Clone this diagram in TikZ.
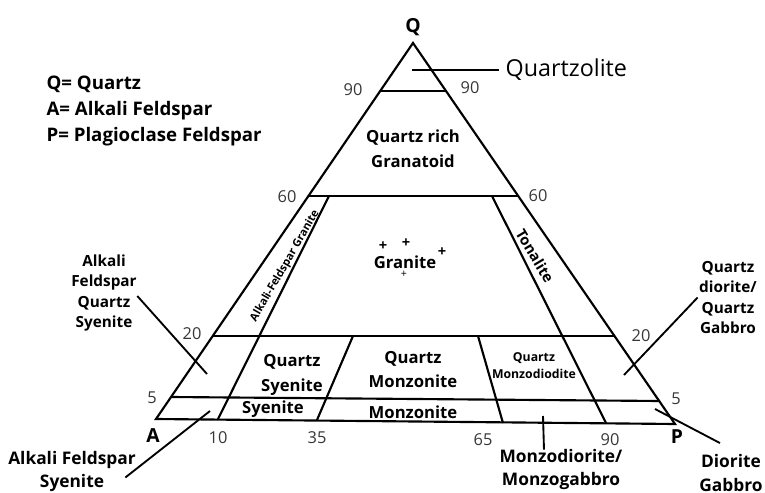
\documentclass[tikz,border=0pt]{standalone}
\usepackage{fontspec}
\setmainfont{Open Sans}
\usepackage{xcolor}
\usetikzlibrary{positioning, calc}
\definecolor{QAPInk}{RGB}{0, 0, 0}
\definecolor{QAPNum}{RGB}{55, 55, 55}

\begin{document}
\begin{tikzpicture}[x=0.75pt, y=-0.75pt,
    edge/.style={draw=QAPInk, line width=1.6pt, line join=miter},
    lead/.style={draw=QAPInk, line width=1.4pt},
    fieldlbl/.style={font=\fontsize{12.5}{18.5}\selectfont\bfseries, align=center, inner sep=1pt},
    sidelbl/.style={font=\fontsize{11.5}{15.4}\selectfont\bfseries, align=center, inner sep=1pt},
    footlbl/.style={font=\fontsize{13}{17.5}\selectfont\bfseries, align=center, inner sep=1pt},
    numlbl/.style={font=\fontsize{12.3}{14}\selectfont, text=QAPNum, inner sep=1pt},
    cornerlbl/.style={font=\fontsize{14.5}{16}\selectfont\bfseries, inner sep=1pt}
  ]
  \useasboundingbox (0,0) rectangle (765,493);

  % legend
  \node[anchor=west, align=left, inner sep=1pt,
    font=\fontsize{14}{19.8}\selectfont\bfseries] (legend) at (45,111)
    {Q= Quartz\\A= Alkali Feldspar\\P= Plagioclase Feldspar};

  % triangle
  \coordinate (Q) at (413,43);
  \coordinate (A) at (156,419);
  \coordinate (P) at (675,424);
  \draw[edge] (A) -- (Q) -- (P) -- cycle;
  \node[cornerlbl] (qlbl) at (413,27) {Q};
  \node[cornerlbl] (albl) at (153,436) {A};
  \node[cornerlbl] (plbl) at (677,437) {P};

  % level lines
  \draw[edge] (380,91) -- (447,91);
  \draw[edge] (308,196) -- (518,196);
  \draw[edge] (213,336) -- (615,336);
  \draw[edge] (171,397) -- (660,401);

  % field dividers
  \draw[edge] (329,196) -- (218,419);
  \draw[edge] (353,336) -- (317,420);
  \draw[edge] (478,336) -- (503,423);
  \draw[edge] (492,196) -- (606,423);

  % scale numbers
  \node[numlbl] (n90l) at (353,90) {90};
  \node[numlbl] (n90r) at (470,88) {90};
  \node[numlbl] (n60l) at (287,197) {60};
  \node[numlbl] (n60r) at (538,196) {60};
  \node[numlbl] (n20l) at (192,334) {20};
  \node[numlbl] (n20r) at (641,336) {20};
  \node[numlbl] (n5l) at (152,398) {5};
  \node[numlbl] (n5r) at (676,399) {5};
  \node[numlbl] (n10) at (218,438) {10};
  \node[numlbl] (n35) at (317,438) {35};
  \node[numlbl] (n65) at (483,440) {65};
  \node[numlbl] (n90b) at (610,440) {90};

  % fields
  \node[fieldlbl] (qrich) at (413,148.5) {Quartz rich\\Granatoid};
  \node[fieldlbl] (granite) at (405,262) {Granite};
  \node[font=\fontsize{11}{12}\selectfont\bfseries, inner sep=0pt] (plus1) at (383,246) {+};
  \node[font=\fontsize{11}{12}\selectfont\bfseries, inner sep=0pt] (plus2) at (406,243) {+};
  \node[font=\fontsize{11}{12}\selectfont\bfseries, inner sep=0pt] (plus3) at (442,252) {+};
  \node[font=\fontsize{8}{9}\selectfont, inner sep=0pt] (plus4) at (404,274) {+};
  \node[font=\fontsize{8.3}{9}\selectfont\bfseries, rotate=60, inner sep=1pt] (afgran) at (285,266) {Alkali-Feldspar Granite};
  \node[font=\fontsize{11}{12}\selectfont\bfseries, rotate=-59, inner sep=1pt] (tonal) at (535,256) {Tonalite};
  \node[fieldlbl] (qsyen) at (292,375) {Quartz\\Syenite};
  \node[fieldlbl] (syen) at (273,409) {Syenite};
  \node[fieldlbl] (qmonz) at (413,369.5) {Quartz\\Monzonite};
  \node[fieldlbl] (monz) at (413,412) {Monzonite};
  \node[font=\fontsize{9.2}{12.8}\selectfont\bfseries, align=center, inner sep=1pt] (qmzd) at (534,365.5) {Quartz\\Monzodiodite};

  % outside labels and leaders
  \node[anchor=west, font=\fontsize{17.5}{19}\selectfont, inner sep=1pt] (qtzl) at (504,70) {Quartzolite};
  \coordinate (qtzlPt) at (412,70);
  \draw[lead] ([xshift=-4pt]qtzl.west) -- (qtzlPt);

  \node[sidelbl] (afqs) at (104,293) {Alkali\\Feldspar\\Quartz\\Syenite};
  \coordinate (afqsPt) at (207,374);
  \draw[lead] ([shift={(-1,3)}]afqs.east) -- (afqsPt);

  \node[footlbl] (afsy) at (72,471.5) {Alkali Feldspar\\Syenite};
  \coordinate (afsyPt) at (210,411);
  \draw[lead] ([shift={(-12,6)}]afsy.east) -- (afsyPt);

  \node[sidelbl] (qdio) at (728,297.5) {Quartz\\diorite/\\Quartz\\Gabbro};
  \coordinate (qdioPt) at (624,375);
  \draw[lead] (qdio.west) -- (qdioPt);

  \node[footlbl] (diogab) at (731,473) {Diorite\\Gabbro};
  \coordinate (diogabPt) at (655,409);
  \draw[lead] ([shift={(-11,-10)}]diogab.north) -- (diogabPt);

  \node[footlbl] (monzd) at (561,469.5) {Monzodiorite/\\Monzogabbro};
  \coordinate (monzdPt) at (543,416);
  \draw[lead] ([shift={(-17,2)}]monzd.north) -- (monzdPt);
\end{tikzpicture}
\end{document}
